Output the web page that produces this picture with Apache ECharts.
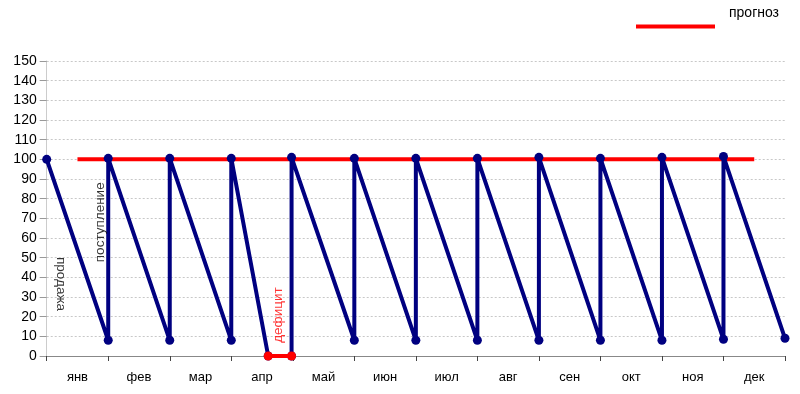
<!DOCTYPE html>
<html>
<head>
<meta charset="utf-8">
<script src="https://cdn.jsdelivr.net/npm/echarts@6/dist/echarts.min.js"></script>
<style>html,body{margin:0;padding:0;background:#fff}#c{width:800px;height:394px}</style>
</head>
<body>
<div id="c"></div>
<script>
const months = ['янв','фев','мар','апр','май','июн','июл','авг','сен','окт','ноя','дек'];
const yTicks = {min: 0, max: 150, interval: 10};
// stock level path (x in month units from start of year)
const stockX = [0, 1, 1, 2, 2, 3, 3, 3.6, 3.98, 3.98, 5, 5, 6, 6, 7, 7, 8, 8, 9, 9, 10, 10, 11, 11, 12];
const stockY = [100, 8, 100.5, 8, 100.5, 8, 100.5, 0, 0, 101, 8, 100.5, 8, 100.5, 8, 100.5, 8, 101, 8, 100.5, 8, 101, 8.5, 101.5, 9];
// forecast
const forecastX = [0.5, 11.5];
const forecastY = [100, 100];
// deficit segment
const deficitX = [3.6, 3.98];
const deficitY = [0, 0];
// annotations
const noteText = ['продажа', 'поступление', 'дефицит'];
const noteX = [0.23, 0.87, 3.77];
const noteY = [36.6, 68, 20.8];

const font = '"Liberation Sans", Arial, sans-serif';
const zip = (a, b) => a.map((v, i) => [v, b[i]]);
const noteRot = [-90, 90, 90];
const noteColor = ['#000', '#000', '#ff0000'];

const chart = echarts.init(document.getElementById('c'), null, {renderer: 'canvas'});
chart.setOption({
  animation: false,
  backgroundColor: '#fff',
  textStyle: {fontFamily: font},
  grid: {left: 46.7, right: 15, top: 61, bottom: 38, containLabel: false},
  legend: {
    left: 636, top: 6.5, padding: 0,
    data: [{name: 'прогноз', icon: 'rect'}],
    itemWidth: 79, itemHeight: 4,
    formatter: n => n + '\n \n ',
    textStyle: {fontSize: 14, lineHeight: 13, color: '#000', fontFamily: font, padding: [0, 0, 0, 9]}
  },
  xAxis: [
    {
      type: 'category', data: months, boundaryGap: true,
      axisLine: {lineStyle: {color: '#888', width: 1}},
      axisTick: {show: true, length: 5, lineStyle: {color: '#444'}},
      axisLabel: {color: '#000', fontSize: 13, margin: 15, fontFamily: font},
      splitLine: {show: false}
    },
    {
      type: 'value', min: 0, max: 12, show: false, position: 'bottom',
      splitLine: {show: false}
    }
  ],
  yAxis: {
    type: 'value', min: yTicks.min, max: yTicks.max, interval: yTicks.interval,
    axisLine: {show: true, lineStyle: {color: '#ccc'}},
    axisTick: {show: true, length: 7, lineStyle: {color: '#999'}},
    axisLabel: {color: '#000', fontSize: 14, margin: 10, fontFamily: font},
    splitLine: {show: true, lineStyle: {color: '#c8c8c8', type: [2, 2], width: 1}}
  },
  series: [
    {
      name: 'прогноз', type: 'line', xAxisIndex: 1,
      data: zip(forecastX, forecastY),
      showSymbol: false, symbol: 'none',
      lineStyle: {color: '#ff0000', width: 4},
      itemStyle: {color: '#ff0000'},
      clip: false, z: 2
    },
    {
      name: 'запас', type: 'line', xAxisIndex: 1,
      data: zip(stockX, stockY),
      symbol: 'circle', symbolSize: 9, showAllSymbol: true,
      lineStyle: {color: '#000080', width: 4},
      itemStyle: {color: '#000080'},
      clip: false, z: 3
    },
    {
      name: 'дефицит', type: 'line', xAxisIndex: 1,
      data: zip(deficitX, deficitY),
      symbol: 'circle', symbolSize: 9,
      lineStyle: {color: '#ff0000', width: 4},
      itemStyle: {color: '#ff0000'},
      clip: false, z: 4
    },
    {
      name: 'notes', type: 'scatter', xAxisIndex: 1,
      symbolSize: 0, silent: true, z: 5,
      data: noteText.map((t, i) => ({
        value: [noteX[i], noteY[i]],
        label: {
          show: true, position: 'inside', formatter: t, rotate: noteRot[i],
          color: noteColor[i], fontSize: 13.5, fontFamily: font
        }
      }))
    }
  ]
});
</script>
</body>
</html>
